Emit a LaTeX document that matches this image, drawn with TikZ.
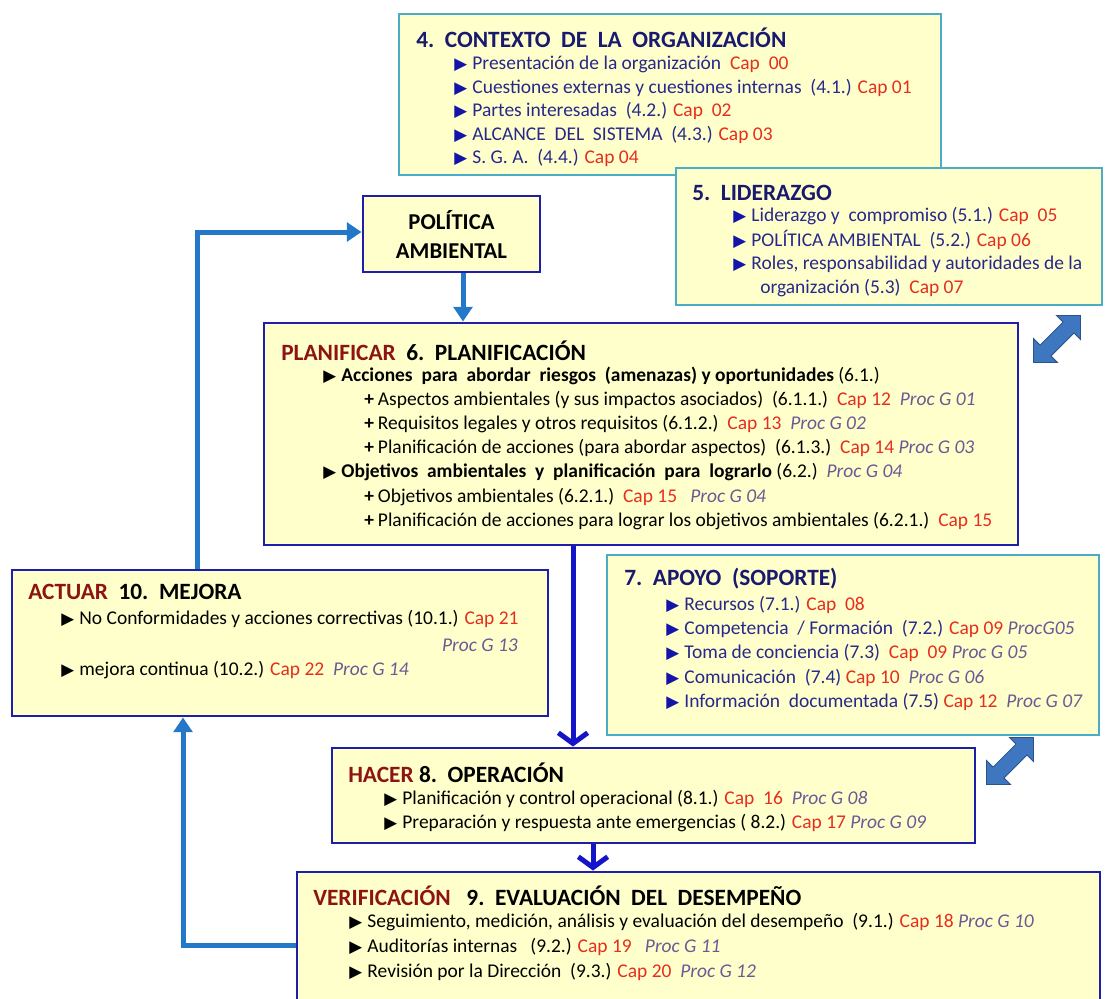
\documentclass[tikz,border=0pt]{standalone}
\usepackage{fontspec}
\setmainfont{Carlito}
\newfontfamily\symfont{DejaVu Sans}
\usetikzlibrary{arrows.meta,fit,shapes.arrows}
\definecolor{fillY}{RGB}{255,255,204}
\definecolor{tealB}{RGB}{75,172,198}
\definecolor{navyB}{RGB}{30,30,170}
\definecolor{arrL}{RGB}{35,120,200}
\definecolor{arrD}{RGB}{20,20,200}
\definecolor{hdrN}{RGB}{25,25,110}
\definecolor{itmB}{RGB}{40,40,140}
\definecolor{bulB}{RGB}{20,20,170}
\definecolor{capR}{RGB}{230,45,30}
\definecolor{procP}{RGB}{105,90,150}
\definecolor{dRed}{RGB}{140,20,20}
\definecolor{dblA}{RGB}{62,118,192}
\newcommand\bulb{{\color{bulB}\symfont\fontsize{12.5pt}{10pt}\selectfont ▶}\hspace{4pt}}
\newcommand\bulk{{\color{black}\symfont\fontsize{12.5pt}{10pt}\selectfont ▶}\hspace{4pt}}
\newcommand\plusk{{\bfseries +}\hspace{3pt}}
\newcommand\capx[1]{{\color{capR}#1}}
\newcommand\procx[1]{{\color{procP}\itshape #1}}
\tikzset{
  tbox/.style={draw=tealB, line width=1.5pt, fill=fillY, inner sep=0pt},
  nbox/.style={draw=navyB, line width=2.2pt, fill=fillY, inner sep=0pt},
  hdr/.style={anchor=west, inner sep=0pt, font=\fontsize{17.5pt}{21pt}\selectfont\bfseries},
  itm/.style={anchor=west, inner sep=0pt, font=\fontsize{14.6pt}{17.5pt}\selectfont},
  larrow/.style={draw=arrL, line width=3.75pt, -{Triangle[length=11pt,width=14pt]}},
  darrow/.style={draw=arrD, line width=3.75pt, -{Straight Barb[length=8pt,width=22pt]}},
  dbl/.style={double arrow, fill=dblA, draw=dblA!70!black, line width=0.6pt,
    minimum height=50pt, inner sep=5.5pt, double arrow head extend=7pt}
}
\begin{document}
\begin{tikzpicture}[x=0.75pt,y=-0.75pt]
\useasboundingbox (0,0) rectangle (1107,999);
\clip (0,0) rectangle (1107,999);
% ---- boxes
\node[tbox, fit={(399,14) (941,175)}] (ctx) {};
\node[tbox, fit={(676,168) (1102,305)}] (lid) {};
\node[nbox, fit={(363,196) (540,272)}] (pol) {};
\node[nbox, fit={(264,323) (1018,545)}] (plan) {};
\node[nbox, fit={(12,570) (548,716)}] (act) {};
\node[tbox, fit={(607,555) (1099,735)}] (apo) {};
\node[nbox, fit={(332,748) (975,843)}] (hac) {};
\node[nbox, fit={(297,872) (1100,1003)}] (ver) {};
% ---- double arrows
\node[dbl, rotate=45] (dbl1) at (1057,339) {};
\node[dbl, rotate=45] (dbl2) at (1010,761) {};
% ---- contexto
\node[hdr, text=hdrN] (c0) at (416,38) {4.\ \ CONTEXTO\ \ DE\ \ LA\ \ ORGANIZACIÓN};
\node[itm, text=itmB] (c1) at (454,64) {\bulb Presentación de la organización\ \ \capx{Cap\ \ 00}};
\node[itm, text=itmB] (c2) at (454,88) {\bulb Cuestiones externas y cuestiones internas\ \ (4.1.) \capx{Cap 01}};
\node[itm, text=itmB] (c3) at (454,111) {\bulb Partes interesadas\ \ (4.2.) \capx{Cap\ \ 02}};
\node[itm, text=itmB] (c4) at (454,135) {\bulb ALCANCE\ \ DEL\ \ SISTEMA\ \ (4.3.) \capx{Cap 03}};
\node[itm, text=itmB] (c5) at (454,158) {\bulb S. G. A.\ \ (4.4.) \capx{Cap 04}};
% ---- liderazgo
\node[hdr, text=hdrN] (l0) at (692,193) {5.\ \ LIDERAZGO};
\node[itm, text=itmB] (l1) at (733,216) {\bulb Liderazgo y\ \ compromiso (5.1.) \capx{Cap\ \ 05}};
\node[itm, text=itmB] (l2) at (733,240) {\bulb POLÍTICA AMBIENTAL\ \ (5.2.) \capx{Cap 06}};
\node[itm, text=itmB] (l3) at (733,264) {\bulb Roles, responsabilidad y autoridades de la};
\node[itm, text=itmB] (l4) at (760,288) {organización (5.3)\ \ \capx{Cap 07}};
% ---- politica
\node[inner sep=0pt, align=center, font=\fontsize{17pt}{21.75pt}\selectfont\bfseries] (polt) at (pol.center) {POLÍTICA\\AMBIENTAL};
% ---- planificar
\node[hdr] (p0) at (281,351) {\color{dRed}PLANIFICAR\color{black}\ \ 6.\ \ PLANIFICACIÓN};
\node[itm] (p1) at (323,376) {\bulk\textbf{Acciones\ \ para\ \ abordar\ \ riesgos\ \ (amenazas) y oportunidades} (6.1.)};
\node[itm] (p2) at (364,400) {\plusk Aspectos ambientales (y sus impactos asociados)\ \ (6.1.1.)\ \ \capx{Cap 12}\ \ \procx{Proc G 01}};
\node[itm] (p3) at (364,424) {\plusk Requisitos legales y otros requisitos (6.1.2.)\ \ \capx{Cap 13}\ \ \procx{Proc G 02}};
\node[itm] (p4) at (364,448) {\plusk Planificación de acciones (para abordar aspectos)\ \ (6.1.3.)\ \ \capx{Cap 14} \procx{Proc G 03}};
\node[itm] (p5) at (323,472) {\bulk\textbf{Objetivos\ \ ambientales\ \ y\ \ planificación\ \ para\ \ lograrlo} (6.2.)\ \ \procx{Proc G 04}};
\node[itm] (p6) at (364,497) {\plusk Objetivos ambientales (6.2.1.)\ \ \capx{Cap 15}\ \ \ \procx{Proc G 04}};
\node[itm] (p7) at (364,521) {\plusk Planificación de acciones para lograr los objetivos ambientales (6.2.1.)\ \ \capx{Cap 15}};
% ---- actuar
\node[hdr] (a0) at (28,592) {\color{dRed}ACTUAR\color{black}\ \ 10.\ \ MEJORA};
\node[itm] (a1) at (61,619) {\bulk No Conformidades y acciones correctivas (10.1.) \capx{Cap 21}};
\node[itm, anchor=east] (a2) at (518,645) {\procx{Proc G 13}};
\node[itm] (a3) at (61,670) {\bulk mejora continua (10.2.) \capx{Cap 22}\ \ \procx{Proc G 14}};
% ---- apoyo
\node[hdr, text=hdrN] (s0) at (624,579) {7.\ \ APOYO\ \ (SOPORTE)};
\node[itm, text=itmB] (s1) at (666,605) {\bulb Recursos (7.1.) \capx{Cap\ \ 08}};
\node[itm, text=itmB] (s2) at (666,629) {\bulb Competencia\ \ / Formación\ \ (7.2.) \capx{Cap 09} \procx{ProcG05}};
\node[itm, text=itmB] (s3) at (666,653) {\bulb Toma de conciencia (7.3)\ \ \capx{Cap\ \ 09} \procx{Proc G 05}};
\node[itm, text=itmB] (s4) at (666,678) {\bulb Comunicación\ \ (7.4) \capx{Cap 10}\ \ \procx{Proc G 06}};
\node[itm, text=itmB] (s5) at (666,702) {\bulb Información\ \ documentada (7.5) \capx{Cap 12}\ \ \procx{Proc G 07}};
% ---- hacer
\node[hdr] (h0) at (348,773) {\color{dRed}HACER\color{black}\ 8.\ \ OPERACIÓN};
\node[itm] (h1) at (384,799) {\bulk Planificación y control operacional (8.1.) \capx{Cap\ \ 16}\ \ \procx{Proc G 08}};
\node[itm] (h2) at (384,823) {\bulk Preparación y respuesta ante emergencias ( 8.2.) \capx{Cap 17} \procx{Proc G 09}};
% ---- verificacion
\node[hdr] (v0) at (313,896) {\color{dRed}VERIFICACIÓN\color{black}\ \ \ 9.\ \ EVALUACIÓN\ \ DEL\ \ DESEMPEÑO};
\node[itm] (v1) at (349,922) {\bulk Seguimiento, medición, análisis y evaluación del desempeño\ \ (9.1.) \capx{Cap 18} \procx{Proc G 10}};
\node[itm] (v2) at (349,947) {\bulk Auditorías internas\ \ \ (9.2.) \capx{Cap 19}\ \ \ \procx{Proc G 11}};
\node[itm] (v3) at (349,972) {\bulk Revisión por la Dirección\ \ (9.3.) \capx{Cap 20}\ \ \procx{Proc G 12}};
% ---- connectors
\coordinate (xa) at (197,0);
\coordinate (ya) at (0,232);
\coordinate (xb) at (463,0);
\coordinate (xc) at (573,0);
\coordinate (xd) at (593,0);
\coordinate (xe) at (183,0);
\coordinate (ye) at (0,945);
\draw[larrow] (act.north -| xa) |- (pol.west |- ya);
\draw[larrow] (pol.south -| xb) -- (plan.north -| xb);
\draw[darrow] (plan.south -| xc) -- (hac.north -| xc);
\draw[darrow] (hac.south -| xd) -- (ver.north -| xd);
\draw[larrow] (ver.west |- ye) -| (act.south -| xe);
\end{tikzpicture}
\end{document}
